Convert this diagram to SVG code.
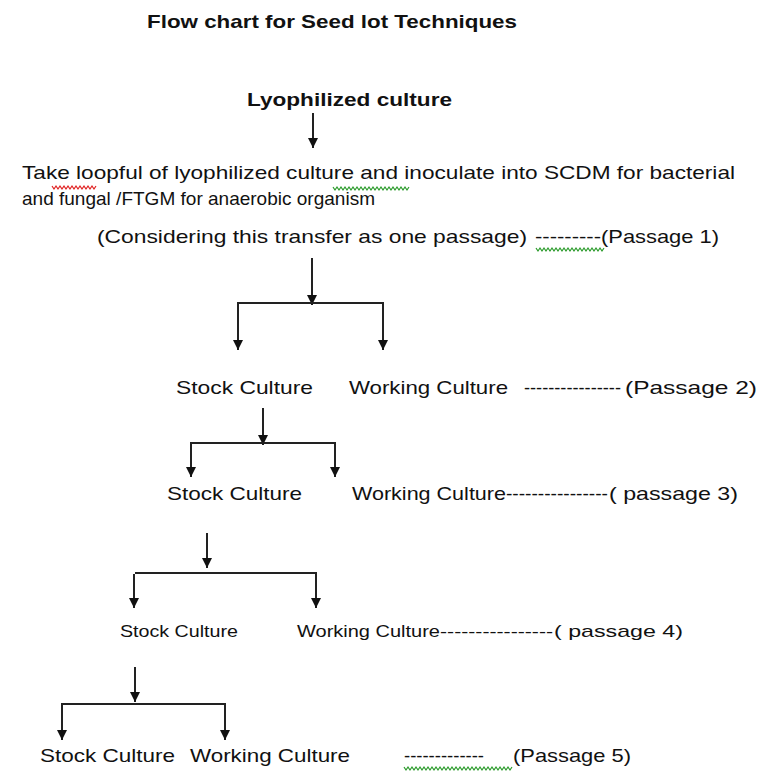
<svg xmlns="http://www.w3.org/2000/svg" width="771" height="772" viewBox="0 0 771 772">
  <style>
    text { font-family: "Liberation Sans", Arial, sans-serif; font-size: 18.5px; fill: #111; }
    .b { font-weight: bold; }
    .n { font-size: 17px; }
    .w { fill: none; stroke-width: 1.2; }
    .red { stroke: #e02020; }
    .grn { stroke: #2a9a2a; }
    .c line { stroke: #222; stroke-width: 2; fill: none; }
  </style>
  <defs>
    <marker id="ah" markerUnits="userSpaceOnUse" markerWidth="12" markerHeight="12" viewBox="0 0 12 12" refX="11" refY="6" orient="auto">
      <path d="M1,1 L11,6 L1,11 Z" fill="#111"/>
    </marker>
  </defs>
  <rect width="771" height="772" fill="#fff"/>

  <g id="title"><text class="b" x="147" y="28" textLength="370" lengthAdjust="spacingAndGlyphs">Flow chart for  Seed lot Techniques</text></g>

  <g id="lyophilized"><text class="b" x="247" y="106" textLength="205" lengthAdjust="spacingAndGlyphs">Lyophilized culture</text></g>

  <g id="inoculate">
    <text x="22" y="179" textLength="713" lengthAdjust="spacingAndGlyphs">Take loopful of lyophilized culture and inoculate into  SCDM for bacterial</text>
    <text x="22" y="205" textLength="353" lengthAdjust="spacingAndGlyphs">and fungal /FTGM for anaerobic organism</text>
    <polyline class="w red" points="52,186 54,189 56,186 58,189 60,186 62,189 64,186 66,189 68,186 70,189 72,186 74,189 76,186 78,189 80,186 82,189 84,186 86,189 88,186 90,189 92,186 94,189 96,186"/>
    <polyline class="w grn" points="333,187 335,190 337,187 339,190 341,187 343,190 345,187 347,190 349,187 351,190 353,187 355,190 357,187 359,190 361,187 363,190 365,187 367,190 369,187 371,190 373,187 375,190 377,187 379,190 381,187 383,190 385,187 387,190 389,187 391,190 393,187 395,190 397,187 399,190 401,187 403,190 405,187 407,190 409,187"/>
  </g>

  <g id="passage1">
    <text x="97" y="243" textLength="430" lengthAdjust="spacingAndGlyphs">(Considering this transfer as one passage)</text>
    <text x="535" y="243" textLength="66" lengthAdjust="spacingAndGlyphs">---------</text>
    <text x="601" y="243" textLength="118" lengthAdjust="spacingAndGlyphs">(Passage 1)</text>
    <polyline class="w grn" points="536,248 538,251 540,248 542,251 544,248 546,251 548,248 550,251 552,248 554,251 556,248 558,251 560,248 562,251 564,248 566,251 568,248 570,251 572,248 574,251 576,248 578,251 580,248 582,251 584,248 586,251 588,248 590,251 592,248 594,251 596,248 598,251 600,248 602,251 604,248"/>
  </g>

  <g id="passage2">
    <text x="176" y="394" textLength="137" lengthAdjust="spacingAndGlyphs">Stock Culture</text>
    <text x="349" y="394" textLength="159" lengthAdjust="spacingAndGlyphs">Working Culture</text>
    <text x="524" y="394" textLength="97" lengthAdjust="spacingAndGlyphs">----------------</text>
    <text x="625" y="394" textLength="132" lengthAdjust="spacingAndGlyphs">(Passage 2)</text>
  </g>

  <g id="passage3">
    <text x="167" y="500" textLength="135" lengthAdjust="spacingAndGlyphs">Stock Culture</text>
    <text x="352" y="500" textLength="154" lengthAdjust="spacingAndGlyphs">Working Culture</text>
    <text x="506" y="500" textLength="102" lengthAdjust="spacingAndGlyphs">----------------</text>
    <text x="609" y="500" textLength="129" lengthAdjust="spacingAndGlyphs">( passage 3)</text>
  </g>

  <g id="passage4">
    <text class="n" x="120" y="637" textLength="118" lengthAdjust="spacingAndGlyphs">Stock  Culture</text>
    <text class="n" x="297" y="637" textLength="143" lengthAdjust="spacingAndGlyphs">Working  Culture</text>
    <text class="n" x="440" y="637" textLength="113" lengthAdjust="spacingAndGlyphs">----------------</text>
    <text class="n" x="554" y="637" textLength="129" lengthAdjust="spacingAndGlyphs">(   passage 4)</text>
  </g>

  <g id="passage5">
    <text x="40" y="762" textLength="135" lengthAdjust="spacingAndGlyphs">Stock Culture</text>
    <text x="190" y="762" textLength="160" lengthAdjust="spacingAndGlyphs">Working Culture</text>
    <text x="404" y="762" textLength="80" lengthAdjust="spacingAndGlyphs">-------------</text>
    <text x="513" y="762" textLength="118" lengthAdjust="spacingAndGlyphs">(Passage 5)</text>
    <polyline class="w grn" points="404,767 406,770 408,767 410,770 412,767 414,770 416,767 418,770 420,767 422,770 424,767 426,770 428,767 430,770 432,767 434,770 436,767 438,770 440,767 442,770 444,767 446,770 448,767 450,770 452,767 454,770 456,767 458,770 460,767 462,770 464,767 466,770 468,767 470,770 472,767 474,770 476,767 478,770 480,767 482,770 484,767 486,770 488,767 490,770 492,767 494,770 496,767 498,770 500,767 502,770 504,767 506,770 508,767 510,770 512,767"/>
  </g>

  <g id="connectors" class="c">
    <line x1="313" y1="113" x2="313" y2="148" marker-end="url(#ah)"/>

    <line x1="312" y1="258" x2="312" y2="305" marker-end="url(#ah)"/>
    <line x1="238" y1="303" x2="383" y2="303"/>
    <line x1="238" y1="302" x2="238" y2="350" marker-end="url(#ah)"/>
    <line x1="383" y1="302" x2="383" y2="350" marker-end="url(#ah)"/>

    <line x1="263" y1="408" x2="263" y2="445" marker-end="url(#ah)"/>
    <line x1="191" y1="443" x2="335" y2="443"/>
    <line x1="191" y1="442" x2="191" y2="477" marker-end="url(#ah)"/>
    <line x1="335" y1="442" x2="335" y2="477" marker-end="url(#ah)"/>

    <line x1="207" y1="533" x2="207" y2="568" marker-end="url(#ah)"/>
    <line x1="135" y1="573" x2="317" y2="573"/>
    <line x1="134" y1="574" x2="134" y2="608" marker-end="url(#ah)"/>
    <line x1="316" y1="574" x2="316" y2="608" marker-end="url(#ah)"/>

    <line x1="135" y1="667" x2="135" y2="702" marker-end="url(#ah)"/>
    <line x1="62" y1="704" x2="225" y2="704"/>
    <line x1="62" y1="703" x2="62" y2="740" marker-end="url(#ah)"/>
    <line x1="225" y1="703" x2="225" y2="740" marker-end="url(#ah)"/>
  </g>
</svg>
